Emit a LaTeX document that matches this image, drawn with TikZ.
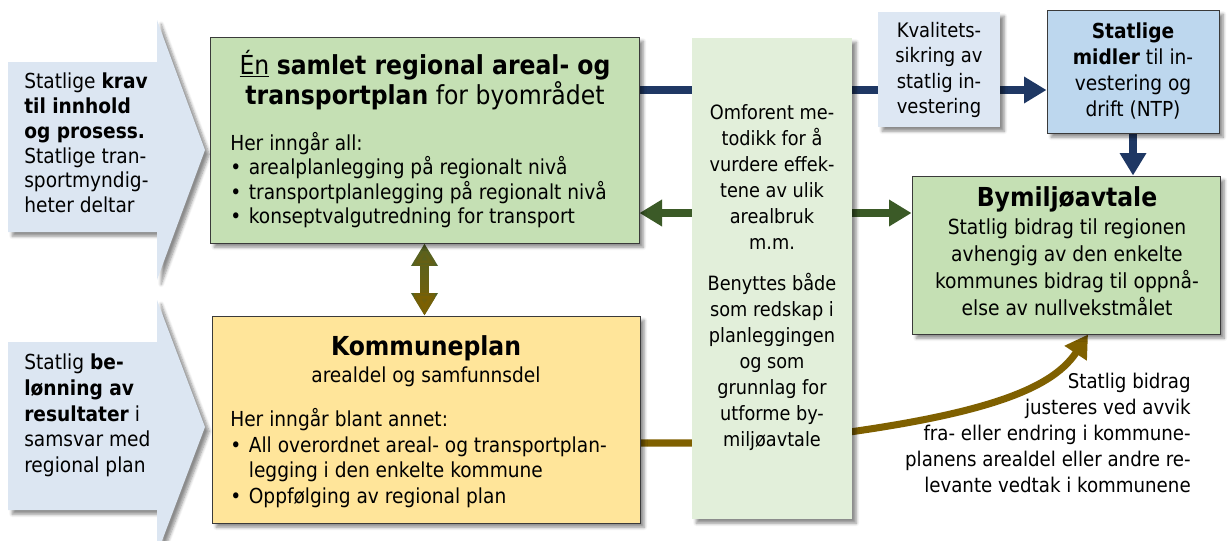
\documentclass[tikz,border=0pt]{standalone}
\usepackage{fontspec}
\setmainfont{DejaVu Sans Condensed}
\usetikzlibrary{arrows.meta,shadows.blur,fadings}
\definecolor{frame}{HTML}{3A3A3A}
\definecolor{arrowblue}{HTML}{DCE6F2}
\definecolor{regiongreen}{HTML}{C5E0B4}
\definecolor{methodgreen}{HTML}{E2EFDA}
\definecolor{planyellow}{HTML}{FFE59A}
\definecolor{checkblue}{HTML}{DDE7F3}
\definecolor{fundblue}{HTML}{BDD7EE}
\definecolor{navy}{HTML}{1F3864}
\definecolor{leafgreen}{HTML}{3B5A27}
\definecolor{olive}{HTML}{4F6228}
\definecolor{darkbrown}{HTML}{7F6000}
\pgfdeclarelayer{links}
\pgfsetlayers{links,main}
\tikzfading[name=fade up, top color=transparent!100, bottom color=transparent!0]
\tikzstyle{boxshadow}=[blur shadow={shadow xshift=3pt,shadow yshift=-3pt,shadow blur steps=6,shadow opacity=45}]
\tikzstyle{framed}=[draw=frame,line width=0.7pt,boxshadow]
\tikzstyle{plain}=[boxshadow]
\tikzstyle{txt}=[inner sep=0pt,font=\fontsize{14.7}{17.4}\selectfont]
\tikzstyle{head}=[font=\fontsize{18.6}{21.3}\selectfont\bfseries,inner sep=0pt]
\tikzstyle{link}=[line width=5.7pt]
\tikzstyle{tip}=[-{Triangle[length=16pt,width=18pt]}]
\tikzstyle{twotips}=[{Triangle[length=16pt,width=18pt]}-{Triangle[length=16pt,width=18pt]}]
% box from its corners, given in pixels: name, style, left, top, right, bottom
\newcommand{\placebox}[6]{
\pgfmathsetmacro{\bw}{(#5-#3)*0.025}
\pgfmathsetmacro{\bh}{(#6-#4)*0.025}
\node[#2,minimum width=\bw cm,minimum height=\bh cm,inner sep=0pt] (#1) at ({(#3+#5)/2},{(#4+#6)/2}) {};
}
\newcommand{\itm}{\makebox[13.2pt][l]{\textbullet}}
\newcommand{\itmskip}{\hspace*{13.2pt}}

\begin{document}
\begin{tikzpicture}[x=0.025cm,y=-0.025cm]
\useasboundingbox (0,0) rectangle (1228,540);

% state input arrows on the left
\fill[arrowblue,boxshadow] (8,62) -- (157,62) -- (157,20) -- (205,150) -- (157,280) -- (157,232) -- (8,232) -- cycle;
\fill[arrowblue,boxshadow] (8,342) -- (157,342) -- (157,300) -- (205,427) -- (157,554) -- (157,510) -- (8,510) -- cycle;
\node[txt,align=left,anchor=north west,font=\fontsize{14.7}{17.6}\selectfont] (demands) at (24,73)
  {Statlige \textbf{krav}\\ \textbf{til innhold}\\ \textbf{og prosess.}\\ Statlige tran-\\ sportmyndig-\\ heter deltar};
\node[txt,align=left,anchor=north west,font=\fontsize{14.7}{18.2}\selectfont] (reward) at (24,354)
  {Statlig \textbf{be-}\\ \textbf{lønning av}\\ \textbf{resultater} i\\ samsvar med\\ regional plan};

% boxes
\placebox{reg}{framed,fill=regiongreen}{210}{37}{639}{243}
\placebox{kom}{framed,fill=planyellow}{212}{316}{640}{523}
\placebox{method}{plain,fill=methodgreen}{692}{38}{852}{519}
\placebox{check}{plain,fill=checkblue}{878}{12}{1000}{127}
\placebox{funds}{framed,fill=fundblue}{1047}{10}{1219}{133}
\placebox{byml}{framed,fill=regiongreen}{912}{176}{1220}{334}

\node[head,align=center,anchor=north,font=\fontsize{18.6}{21.3}\selectfont] (reg-title) at (425,50)
  {\underline{Én} \textbf{samlet regional areal- og}\\ \textbf{transportplan} for byområdet};
\node[txt,align=left,anchor=north west] (reg-list) at (230,132)
  {Her inngår all:\\ \itm arealplanlegging på regionalt nivå\\ \itm transportplanlegging på regionalt nivå\\ \itm konseptvalgutredning for transport};

\node[head,anchor=north] (kom-title) at (426,335) {Kommuneplan};
\node[txt,anchor=north] (kom-sub) at (426,367) {arealdel og samfunnsdel};
\node[txt,align=left,anchor=north west,font=\fontsize{14.7}{18.2}\selectfont] (kom-list) at (230,408)
  {Her inngår blant annet:\\ \itm All overordnet areal- og transportplan-\\ \itmskip legging i den enkelte kommune\\ \itm Oppfølging av regional plan};

\node[txt,align=center,anchor=north,font=\fontsize{14}{18.5}\selectfont] (method-text) at (772,104)
  {Omforent me-\\ todikk for å\\ vurdere effek-\\ tene av ulik\\ arealbruk\\ m.m.\\[11pt] Benyttes både\\ som redskap i\\ planleggingen\\ og som\\ grunnlag for\\ utforme by-\\ miljøavtale};

\node[txt,align=center,anchor=north,font=\fontsize{14.2}{18}\selectfont] (check-text) at (939,22)
  {Kvalitets-\\ sikring av\\ statlig in-\\ vestering};
\node[txt,align=center,anchor=north,font=\fontsize{14.7}{18.4}\selectfont] (funds-text) at (1133,23)
  {\textbf{Statlige}\\ \textbf{midler} til in-\\ vestering og\\ drift (NTP)};

\node[head,anchor=north] (byml-title) at (1067,186) {Bymiljøavtale};
\node[txt,align=center,anchor=north,font=\fontsize{14.8}{19.2}\selectfont] (byml-text) at (1067,218)
  {Statlig bidrag til regionen\\ avhengig av den enkelte\\ kommunes bidrag til oppnå-\\ else av nullvekstmålet};

\node[txt,align=right,anchor=north east,font=\fontsize{14.4}{18.5}\selectfont] (adjust) at (1191,373)
  {Statlig bidrag\\ justeres ved avvik\\ fra- eller endring i kommune-\\ planens arealdel eller andre re-\\ levante vedtak i kommunene};

% connectors, behind the boxes
\coordinate (blueline) at (0,90);
\coordinate (greenline) at (0,213);
\coordinate (brownline) at (0,443);
\coordinate (browntip) at (1088,0);
\begin{pgfonlayer}{links}
\draw[link,navy] (reg.east |- blueline) -- (check.west |- blueline);
\draw[link,navy,tip] (check.east |- blueline) -- (funds.west |- blueline);
\draw[link,navy,tip] (funds.south) -- (byml.north -| funds.south);
\draw[link,leafgreen,twotips] (reg.east |- greenline) -- (byml.west |- greenline);
\draw[link,line width=7pt,olive,twotips] (reg.south) -- (kom.north -| reg.south);
\draw[link,line width=7pt,darkbrown,twotips,path fading=fade up] (reg.south) -- (kom.north -| reg.south);
\draw[link,line width=5pt,darkbrown,tip] (kom.east |- brownline) -- (760,443) .. controls (975,420) and (1050,392) .. (byml.south -| browntip);
\end{pgfonlayer}
\end{tikzpicture}
\end{document}
